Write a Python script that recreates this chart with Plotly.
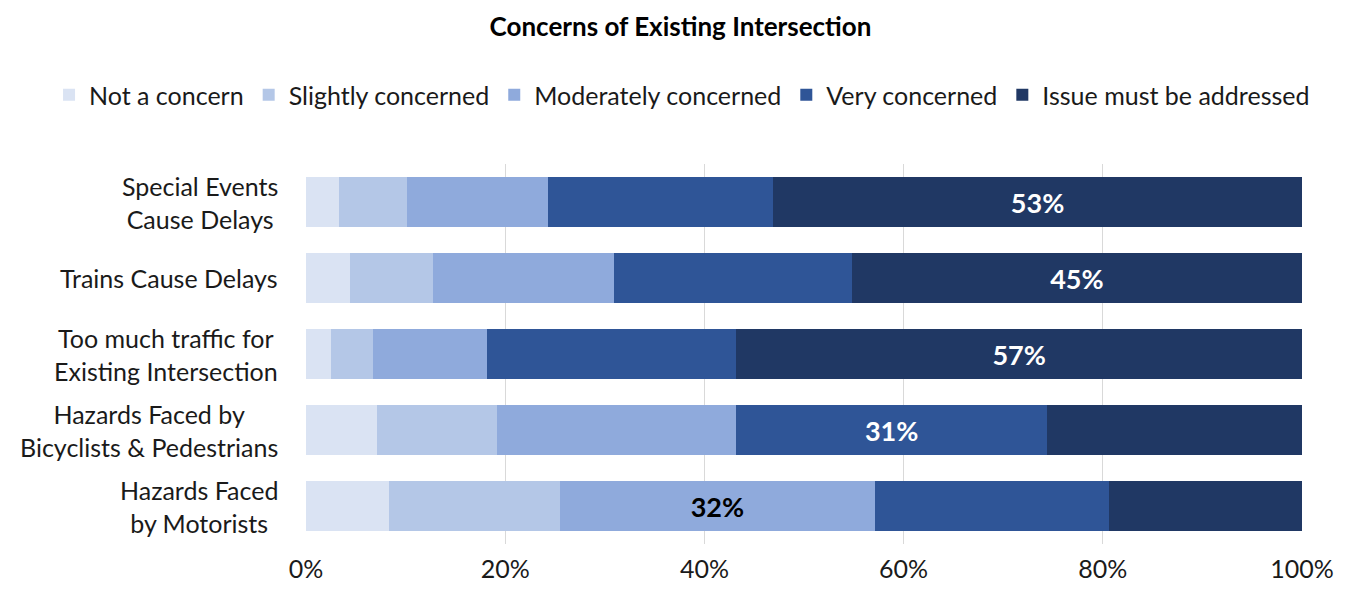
import plotly.graph_objects as go

categories = ["Special Events<br>Cause Delays", "Trains Cause Delays",
              "Too much traffic for<br>Existing Intersection",
              "Hazards Faced by<br>Bicyclists & Pedestrians",
              "Hazards Faced<br>by Motorists"]
series_names = ["Not a concern", "Slightly concerned", "Moderately concerned",
                "Very concerned", "Issue must be addressed"]
not_concern = [3.3, 4.4, 2.5, 7.1, 8.3]
slightly = [6.8, 8.4, 4.2, 12.1, 17.2]
moderately = [14.2, 18.1, 11.5, 24.0, 31.6]
very = [22.6, 23.9, 25.0, 31.2, 23.5]
issue = [53.1, 45.2, 56.8, 25.6, 19.4]
# which series carries the visible label in each row
label_series = ["Issue must be addressed", "Issue must be addressed",
                "Issue must be addressed", "Very concerned", "Moderately concerned"]
label_text = ["53%", "45%", "57%", "31%", "32%"]
tick_vals = [0, 20, 40, 60, 80, 100]
tick_text = ["0%", "20%", "40%", "60%", "80%", "100%"]

colors = ["#DAE3F3", "#B4C7E7", "#8FAADC", "#2F5597", "#203864"]
text_colors = ["black", "black", "black", "white", "white"]
values = [not_concern, slightly, moderately, very, issue]

FONT = "Lato, Noto Sans, sans-serif"
TXT = "#1a1a1a"

fig = go.Figure()
for name, vals, col, tcol in zip(series_names, values, colors, text_colors):
    texts = [lt if ls == name else "" for ls, lt in zip(label_series, label_text)]
    fig.add_trace(go.Bar(
        y=categories, x=vals, name=name, orientation="h",
        marker=dict(color=col, line=dict(width=0)),
        text=texts, textposition="inside", insidetextanchor="middle",
        textangle=0,
        textfont=dict(family=FONT, size=27, color=tcol, weight="bold"),
        constraintext="none",
    ))

for cat in categories:
    fig.add_annotation(x=0, xref="paper", xshift=-26, xanchor="right",
                       y=cat, yref="y", yanchor="middle",
                       text=cat, showarrow=False, align="center",
                       font=dict(family=FONT, size=25, color=TXT))

fig.update_layout(
    width=1345, height=588,
    barmode="stack", bargap=0.33,
    plot_bgcolor="white", paper_bgcolor="white",
    margin=dict(l=298, r=51, t=156, b=52, autoexpand=False),
    title=dict(text="<b>Concerns of Existing Intersection</b>", x=0.5, xref="container",
               xanchor="center", y=1 - 19 / 588, yref="container", yanchor="middle",
               font=dict(family=FONT, size=26, color="black")),
    legend=dict(orientation="h", x=-0.258, xanchor="left",
                y=1 + (156 - 87) / 380, yanchor="middle",
                font=dict(family=FONT, size=25, color=TXT),
                traceorder="normal", itemwidth=30),
    font=dict(family=FONT),
    uniformtext=dict(mode="show", minsize=10),
)
fig.update_xaxes(range=[0, 100], tickvals=tick_vals, ticktext=tick_text,
                 showgrid=True, gridcolor="#D9D9D9", gridwidth=1,
                 zeroline=False, showline=False, tickangle=0,
                 tickfont=dict(family=FONT, size=25, color=TXT),
                 ticks="", ticklabelstandoff=8)
fig.update_yaxes(autorange="reversed", showticklabels=False, showgrid=False,
                 zeroline=False, showline=False)

fig.write_html("out.html")
